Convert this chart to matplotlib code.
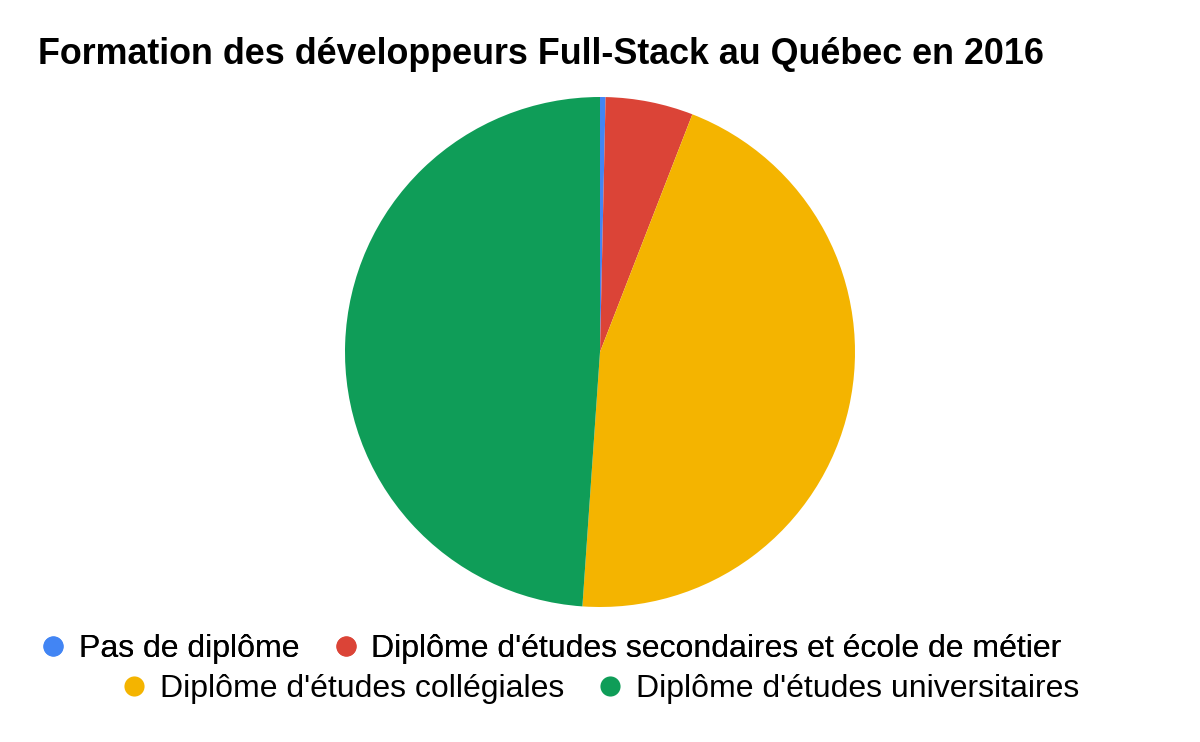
import matplotlib
matplotlib.use('Agg')
import matplotlib.pyplot as plt
from matplotlib.lines import Line2D

plt.rcParams['font.family'] = ['Liberation Sans', 'DejaVu Sans']

# données
labels = ['Pas de diplôme',
          "Diplôme d'études secondaires et école de métier",
          "Diplôme d'études collégiales",
          "Diplôme d'études universitaires"]
values = [0.35, 5.55, 45.2, 48.9]
colors = ['#4285F4', '#DB4437', '#F4B400', '#0F9D58']

W, H = 1200, 742
fig = plt.figure(figsize=(12, 7.42), dpi=100)

# camembert centré à (600, 352), rayon 255 px
cx, cy, r = 600, 352, 255
ax = fig.add_axes([(cx - r) / W, (H - cy - r) / H, 2 * r / W, 2 * r / H])
ax.pie(values, colors=colors, startangle=90, counterclock=False,
       wedgeprops=dict(linewidth=0))
ax.set_xlim(-1, 1)
ax.set_ylim(-1, 1)
ax.axis('off')

fig.text(38 / W, 1 - 54 / H, 'Formation des développeurs Full-Stack au Québec en 2016',
         fontsize=25.8, fontweight='bold', va='center', ha='left')

handles = [Line2D([], [], marker='o', linestyle='', markersize=14.5,
                  markerfacecolor=c, markeredgewidth=0) for c in colors]

leg_kw = dict(loc='center', ncol=2, frameon=False, fontsize=23,
              handlelength=0.8, handletextpad=0.41, columnspacing=1.04,
              borderpad=0, borderaxespad=0)
leg1 = fig.legend(handles[:2], labels[:2],
                  bbox_to_anchor=(551 / W, 1 - 649 / H), **leg_kw)
fig.add_artist(leg1)
fig.legend(handles[2:], labels[2:],
           bbox_to_anchor=(600 / W, 1 - 689 / H), **leg_kw)

plt.savefig('out.png', dpi=100)
plt.close()
